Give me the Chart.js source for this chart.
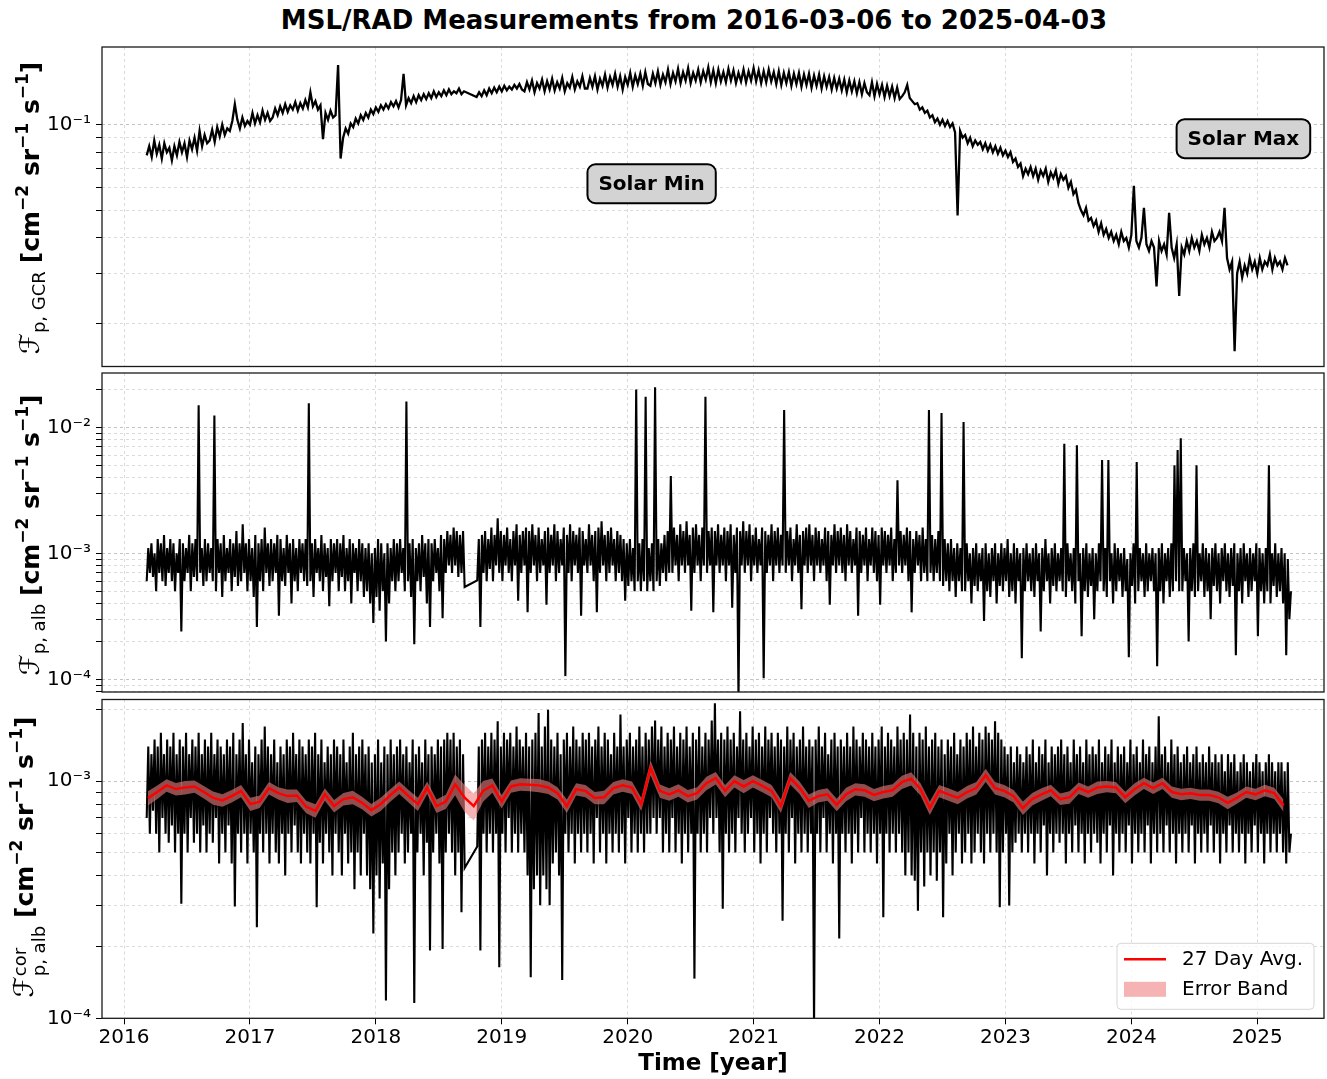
<!DOCTYPE html>
<html>
<head>
<meta charset="utf-8">
<title>MSL/RAD Measurements</title>
<script src="https://cdn.jsdelivr.net/npm/chart.js@4.4.1/dist/chart.umd.min.js"></script>
<style>
  body { margin: 0; background: #fff; }
  #fig { position: relative; width: 1327px; height: 1079px; overflow: hidden;
         font-family: 'DejaVu Sans', sans-serif; color: #000; }
  #fig canvas { position: absolute; left: 0; }
  #title { position: absolute; left: 694px; top: 20px; transform: translate(-50%, -50%);
           font-size: 26px; font-weight: bold; white-space: nowrap; }
  .ylab { position: absolute; left: 29px; transform: translate(-50%, -50%) rotate(-90deg);
          white-space: nowrap; font-size: 25px; line-height: 1; }
  .ylab .cal { font-size: 27px; }
  .ylab .sub { font-size: 18px; position: relative; top: 6px; }
  .ylab b sup { font-size: 17px; vertical-align: 11px; line-height: 0; }
  .ylab .stack { display: inline-block; vertical-align: -12px; font-size: 18px; line-height: 1.05; }
  .ylab .stack span { display: block; }
</style>
</head>
<body>
<div id="fig">
  <div id="title">MSL/RAD Measurements from 2016-03-06 to 2025-04-03</div>
  <canvas id="gcr" width="1327" height="330" style="top:40px"></canvas>
  <canvas id="alb" width="1327" height="326" style="top:370px"></canvas>
  <canvas id="cor" width="1327" height="383" style="top:696px"></canvas>
  <div class="ylab" style="top:208px"><span class="cal">ℱ</span><span class="sub">p, GCR</span> <b>[cm<sup>−2</sup> sr<sup>−1</sup> s<sup>−1</sup>]</b></div>
  <div class="ylab" style="top:535px"><span class="cal">ℱ</span><span class="sub">p, alb</span> <b>[cm<sup>−2</sup> sr<sup>−1</sup> s<sup>−1</sup>]</b></div>
  <div class="ylab" style="top:857px"><span class="cal">ℱ</span><span class="stack"><span>cor</span><span>p, alb</span></span> <b>[cm<sup>−2</sup> sr<sup>−1</sup> s<sup>−1</sup>]</b></div>
</div>
<script>
/* ── Sampling (decimal years) ───────────────────────── */
const T0 = 2016.18;
const GCR_STEP = 0.02;
const ALB_STEP = 0.0125;
const AVG_T0 = 2016.19;
const AVG_STEP = 27 / 365.25;
const X_MIN = 2015.825, X_MAX = 2025.53;

const yearTicks  = [2016, 2017, 2018, 2019, 2020, 2021, 2022, 2023, 2024, 2025];
const minorMults = [1, 2, 3, 4, 5, 6, 7, 8, 9];
const gcrDecades = [-2, -1];
const albDecades = [-5, -4, -3, -2];
const corDecades = [-4, -3];

const noteTexts = ['Solar Min', 'Solar Max'];
const noteYears = [2020.19, 2024.89];
const noteFlux  = [0.062, 0.0893];
const legendLabels = ['27 Day Avg.', 'Error Band'];

// GCR proton flux, units of 1e-3 (null = no data), one row per half year
const gcrFlux = [
  78, 84, 77, 88, 79, 85, 76, 86, 80, 83, 75, 84, 78, 87, 80, 86, 77, 88, 82, 90, 81, 95, 84, 92, 86,
  88, 96, 87, 98, 91, 100, 92, 97, 95, 103, 118, 104, 97, 106, 99, 103, 100, 110, 101, 108, 102, 112, 104, 110, 103,
  106, 114, 108, 116, 110, 118, 111, 117, 113, 120, 112, 119, 114, 122, 115, 130, 116, 121, 113, 117, 89, 110, 104, 112, 106,
  108, 162, 76, 90, 97, 93, 101, 98, 105, 101, 108, 104, 110, 106, 113, 109, 115, 111, 117, 113, 118, 114, 120, 116, 121,
  115, 122, 151, 117, 124, 119, 126, 120, 127, 122, 128, 123, 129, 124, 131, 125, 130, 126, 132, 127, 133, 128, 131, 129, 134,
  128, 131, null, null, null, null, 125, 130, 126, 132, 127, 134, 129, 135, 130, 136, 131, 137, 132, 136, 133, 138, 134, 139, 133,
  131, 141, 133, 143, 130, 140, 134, 144, 131, 142, 133, 145, 132, 141, 134, 146, 131, 140, 135, 147, 133, 142, 136, 148, 134,
  134, 146, 136, 148, 133, 145, 137, 150, 135, 147, 138, 151, 136, 148, 133, 147, 138, 152, 136, 149, 139, 151, 137, 153, 139,
  137, 151, 140, 154, 138, 150, 141, 156, 139, 152, 142, 157, 140, 153, 143, 158, 140, 152, 143, 156, 141, 154, 144, 159, 141,
  155, 140, 156, 142, 153, 141, 157, 143, 155, 140, 152, 142, 156, 141, 154, 143, 158, 142, 155, 140, 154, 141, 156, 142, 153,
  139, 154, 138, 152, 140, 153, 137, 151, 139, 152, 136, 150, 138, 151, 135, 149, 137, 150, 134, 148, 136, 147, 133, 146, 134,
  145, 132, 144, 130, 143, 131, 142, 129, 141, 128, 140, 130, 127, 141, 126, 139, 128, 138, 125, 137, 126, 136, 124, 135, 123,
  126, 130, 138, 124, 121, 118, 119, 113, 115, 110, 112, 106, 108, 102, 105, 100, 104, 99, 103, 98, 101, 94, 48, 95, 90,
  92, 86, 90, 84, 88, 85, 87, 82, 86, 81, 85, 80, 84, 79, 83, 78, 81, 77, 80, 74, 76, 71, 73, 66, 70,
  67, 71, 66, 70, 64, 69, 66, 70, 63, 68, 65, 69, 62, 67, 64, 66, 60, 63, 57, 59, 53, 50, 48, 51, 46,
  47, 44, 46, 42, 45, 41, 43, 40, 42, 39, 41, 38, 42, 39, 40, 37, 41, 61, 39, 37, 40, 51, 38, 36, 39,
  37, 27, 39, 36, 38, 35, 49, 37, 34, 38, 25, 37, 35, 39, 36, 40, 37, 39, 36, 41, 38, 40, 37, 42, 39,
  40, 42, 39, 51, 34, 31, 33, 16, 30, 33, 29, 32, 30, 34, 31, 33, 30, 34, 31, 33, 32, 35, 31, 34, 32,
  33, 31, 34, 32,
];

// albedo proton flux, units of 1e-4, one row per quarter year
const albFlux = [
  6, 11, 7, 12, 6.5, 10, 5, 13, 7, 12, 6, 14, 5.5, 11, 7, 13, 6, 12, 5, 10,
  7, 13, 2.4, 12, 6, 11, 7, 14, 5, 12, 6.5, 13, 6, 150, 7, 11, 5.5, 13, 6, 12,
  7, 11, 6, 124, 5, 13, 7, 12, 4.5, 14, 6, 11, 7, 13, 5, 12, 6.5, 15, 5.5, 12,
  6, 17, 7, 12, 5, 13, 6, 11, 4.5, 14, 2.6, 12, 6, 13, 5, 16, 7, 12, 5.5, 13,
  6, 12, 7, 14, 3.2, 13, 6, 11, 5.5, 14, 7, 12, 4, 13, 6, 11, 5, 13, 7, 12,
  6, 13, 5.5, 155, 6, 12, 4.5, 13, 7, 11, 6, 14, 5, 12, 6.5, 11, 3.8, 13, 6, 12,
  7, 13, 5, 12, 6.5, 14, 5, 11, 6, 13, 4, 12, 7, 11, 5, 13, 6, 12, 4.5, 11,
  5, 12, 4, 10, 2.8, 11, 4.5, 13, 3.5, 12, 5, 10, 2.0, 12, 4, 11, 6, 13, 5, 12,
  6, 13, 7, 11, 5, 160, 6, 12, 4.5, 13, 1.9, 11, 6, 12, 5, 14, 6.5, 12, 4, 13,
  2.6, 12, 6, 13, 7, 11, 5, 14, 3.05, 13, 7, 15, 8, 14, 7, 16, 8, 15, 6.5, 14,
  7, 15, 5.4, null, null, null, null, null, null, null, 6.1, 13, 2.6, 14, 7, 15, 6, 13, 7.5, 16,
  6, 14, 8, 19, 7, 15, 6, 14, 8, 16, 7, 13, 6, 15, 8, 17, 4.2, 14, 7, 15,
  8, 16, 3.4, 15, 7, 17, 8, 14, 6, 16, 7, 13, 8, 15, 3.9, 16, 7, 14, 8, 17,
  6, 15, 7, 13, 8, 16, 1.06, 14, 7, 17, 6, 15, 8, 14, 7, 16, 3.2, 15, 8, 13,
  7, 17, 8, 14, 6, 15, 3.4, 16, 7, 18, 8, 14, 6, 15, 7, 16, 8, 13, 6, 15,
  7, 14, 6, 13, 4.2, 12, 5.5, 13, 6, 11, 5, 200, 6, 12, 5, 13, 6, 175, 5, 11,
  6, 12, 5, 208, 6, 13, 5.5, 12, 7, 14, 6, 15, 7, 41, 7, 16, 8, 14, 6, 17,
  8, 15, 7, 18, 8, 14, 3.5, 16, 7, 17, 8, 14, 6, 16, 8, 175, 7, 15, 8, 16,
  3.4, 15, 8, 17, 7, 14, 8, 16, 6, 15, 8, 17, 3.7, 14, 7, 16, 0.7, 15, 8, 18,
  7, 15, 8, 17, 6, 14, 8, 16, 7, 13, 8, 16, 1.02, 15, 7, 14, 8, 17, 6, 15,
  8, 16, 7, 14, 8, 137, 7, 15, 8, 16, 6, 13, 8, 17, 7, 14, 3.6, 15, 8, 16,
  7, 17, 8, 14, 6, 16, 8, 15, 7, 13, 8, 16, 6, 15, 3.9, 14, 8, 17, 7, 15,
  8, 16, 7, 14, 6, 17, 8, 15, 7, 13, 8, 16, 3.2, 15, 7, 14, 8, 16, 6, 13,
  8, 16, 7, 15, 6, 14, 3.9, 16, 8, 15, 7, 14, 8, 16, 6, 13, 7, 38, 8, 15,
  7, 14, 8, 16, 6, 15, 3.4, 13, 7, 15, 8, 14, 6, 16, 7, 13, 6, 137, 7, 14,
  6, 13, 7, 15, 6, 130, 5.5, 13, 6, 12, 5, 13, 6, 11, 4.5, 12, 6, 11, 5, 110,
  5, 12, 6, 10, 4, 11, 5.5, 12, 5, 10, 6, 11, 2.9, 12, 5, 10, 4.5, 11, 6, 12,
  4, 10, 5.5, 12, 5, 11, 6, 13, 4.5, 10, 5, 12, 4, 11, 6, 10, 1.47, 11, 5, 12,
  6, 10, 5, 11, 4.5, 12, 6, 10, 2.4, 11, 5, 13, 6, 10, 4, 11, 5.5, 12, 5, 10,
  6, 11, 5, 74, 4.5, 12, 6, 10, 5, 11, 4, 72, 6, 10, 2.2, 11, 5, 12, 4.5, 10,
  5.5, 11, 3, 10, 5, 12, 6, 55, 5, 11, 4.5, 55, 6, 10, 4, 12, 5, 11, 6, 10,
  4.5, 11, 5, 9, 1.5, 10, 5.5, 12, 4, 53, 5, 11, 6, 10, 4.5, 12, 5, 10, 6, 11,
  5, 10, 1.27, 11, 5, 12, 4, 10, 6, 11, 4.5, 12, 5, 50, 6, 66, 5, 82, 5, 11,
  6, 10, 2.0, 11, 5, 12, 4.5, 50, 5, 10, 6, 12, 4.5, 11, 5, 10, 3, 11, 5.5, 12,
  5, 10, 4, 11, 6, 12, 5, 10, 4.5, 11, 5.5, 12, 1.55, 10, 5, 11, 4, 12, 6, 10,
  4.5, 11, 5, 10, 6, 12, 2.2, 11, 5, 10, 4, 11, 5, 50, 4, 10, 5.5, 12, 4.5, 10,
  5, 11, 4, 10, 1.55, 9, 3, 5,
];

// corrected albedo proton flux, units of 1e-4, one row per quarter year
const corFlux = [
  7, 14, 6, 13, 7.5, 15, 6, 14, 5, 16, 7, 13, 6, 15, 5.5, 14, 6.5, 16, 5, 13,
  6, 15, 3.04, 14, 6, 16, 5, 13, 7, 15, 5.5, 14, 6, 16, 5, 13, 6.5, 15, 5, 14,
  6, 16, 5.5, 13, 7, 15, 4.5, 14, 6, 13, 5, 15, 6.5, 14, 4.5, 16, 2.96, 13, 6, 15,
  5, 17.6, 6, 13, 4.5, 15, 6, 12, 5, 14, 2.42, 13, 6, 15, 5, 17, 6, 14, 4.5, 13,
  6, 15, 5, 12, 4.5, 14, 6, 13, 4, 15, 6, 14, 5, 16, 6.5, 13, 5, 15, 4.5, 14,
  6, 13, 5, 15, 4.5, 14, 6, 16, 2.94, 13, 5.5, 15, 4.5, 12, 6, 14, 5, 13, 4, 15,
  6, 14, 5, 13, 4, 15, 6, 12, 4.5, 14, 5, 16, 3.5, 13, 5, 14, 4, 15, 6, 13,
  4, 14, 3.5, 12, 2.28, 13, 4, 15, 3.2, 12, 4.5, 14, 1.19, 13, 3.5, 15, 5, 13, 4, 14,
  5, 15, 6, 13, 4.5, 14, 5, 12, 6, 15, 1.16, 13, 5, 14, 6, 12, 4, 15, 5.5, 13,
  1.93, 14, 5, 13, 6, 15, 4.5, 14, 1.96, 15, 5, 16, 6, 15, 5, 16, 4, 14, 5, 15,
  2.8, 13, 4.3, null, null, null, null, null, null, null, 5.3, 14, 1.93, 15, 6, 16, 5, 14, 6, 16,
  5, 15, 6, 17.9, 1.64, 14, 6, 16, 5, 15, 7, 16, 5, 14, 6, 17, 5, 15, 6, 14,
  5, 16, 4, 14, 1.49, 15, 3.5, 16, 4, 19.4, 3, 14, 4, 17, 3.5, 20, 3, 15, 4.5, 14,
  5, 16, 4, 13, 1.45, 15, 6, 16, 5, 14, 6, 17, 4.5, 15, 6, 14, 5, 16, 6, 15,
  5, 16, 6, 14, 4.5, 15, 7, 17, 5, 14, 6, 16, 4.5, 15, 6, 13, 5, 16, 6, 14,
  5, 19.1, 6, 14, 4.5, 15, 7, 16, 5, 14, 6, 15, 5, 17, 6, 14, 5, 16, 6, 15,
  6, 17, 7, 18, 6, 15, 7, 17, 5, 14, 6, 16, 5, 15, 7, 17, 5, 14, 6, 16,
  4.5, 15, 6, 17, 5, 14, 6, 16, 1.47, 15, 6, 17, 5, 14, 6, 16, 5, 15, 7, 18,
  6, 21.3, 7, 15, 5, 16, 2.9, 15, 6, 17, 5, 15, 6, 16, 5, 14, 7, 19.7, 6, 15,
  5, 16, 6, 14, 7, 17, 5, 15, 6, 16, 4.5, 14, 6, 17, 5, 15, 7, 16, 6, 14,
  5, 16, 6, 15, 2.58, 14, 6, 17, 5, 15, 7, 16, 4.5, 14, 6, 15, 5, 17, 6, 14,
  5, 15, 6, 14, 0.9, 15, 6, 17, 5, 14, 7, 16, 5, 13, 6, 15, 4.5, 16, 6, 14,
  2.17, 15, 6, 14, 5, 16, 6, 14, 4.5, 17, 6, 15, 5, 14, 7, 16, 5, 15, 6, 14,
  5, 16, 6, 14, 4.5, 15, 6, 17, 2.67, 14, 6, 16, 5, 15, 6, 14, 5, 17, 6, 15,
  5, 16, 4, 15, 5, 19.1, 4, 16, 3.8, 14, 2.84, 16, 5, 15, 3.6, 17, 5, 14, 4, 15,
  5, 16, 3.8, 14, 5, 15, 2.67, 13, 4.5, 15, 6, 14, 4, 16, 5, 13, 6, 15, 4.5, 14,
  5, 16, 6, 15, 4.5, 17, 5, 14, 6, 16, 5, 15, 4.5, 17, 6, 16, 5, 15, 6, 17.9,
  5, 16, 2.94, 15, 5, 14, 6, 13, 2.99, 14, 5, 12, 5.5, 14, 6, 13, 5, 12, 6, 14,
  5, 13, 6, 15, 4.5, 12, 6, 14, 5, 13, 6.5, 15, 4, 12, 6, 14, 5, 13, 6, 14,
  5.5, 15, 6, 13, 4.5, 14, 6, 12, 5, 15, 6.5, 13, 5, 14, 6, 12, 4.5, 15, 6, 13,
  5, 14, 6, 13, 5.5, 15, 4.5, 12, 6, 14, 5, 13, 6.5, 15, 4, 12, 6, 14, 5, 13,
  6, 14, 5, 12, 6.5, 15, 4.5, 13, 6, 14, 5, 12, 6, 15, 5, 13, 6.5, 14, 4.5, 12,
  6, 14, 5, 18.8, 6, 13, 5, 14, 6.5, 12, 5, 15, 6, 13, 4.5, 14, 6, 12, 5, 13,
  6, 14, 5, 12, 6.5, 13, 4.5, 14, 6, 12, 5, 13, 6, 12, 5, 14, 6.5, 12, 5, 13,
  6, 12, 4.5, 13, 6, 11, 5, 13, 6.5, 12, 5, 13, 6, 11, 5, 12, 6, 13, 4.5, 12,
  6, 11, 5, 12, 6.5, 13, 5, 12, 6, 11, 4.5, 12, 6, 13, 5, 12, 6, 11, 5, 12,
  6, 12, 5, 11, 4.5, 12, 5, 6,
];

// 27-day average of the corrected flux, units of 1e-4
const avgFlux = [
  8.48, 9.0, 9.6, 9.26, 9.4, 9.5, 9.0, 8.5, 8.3, 8.65,
  9.1, 8.0, 8.2, 9.35, 8.9, 8.65, 8.7, 7.8, 7.5, 8.8,
  7.85, 8.4, 8.55, 8.1, 7.55, 8.0, 8.7, 9.4, 8.65, 8.0,
  9.4, 7.85, 8.2, 9.7, 8.55, 7.85, 9.1, 9.6, 8.2, 9.5,
  9.7, 9.65, 9.6, 9.4, 8.9, 7.85, 9.25, 9.1, 8.5, 8.55,
  9.35, 9.6, 9.4, 8.0, 11.4, 9.1, 8.8, 9.15, 8.65, 8.9,
  9.8, 10.3, 9.1, 10.0, 9.5, 10.0, 9.55, 9.1, 7.85, 10.3,
  9.4, 8.25, 8.65, 8.8, 7.95, 8.8, 9.25, 9.15, 8.75, 9.0,
  9.15, 9.9, 10.25, 9.25, 7.7, 9.1, 8.8, 8.5, 9.0, 9.35,
  10.6, 9.35, 9.1, 8.65, 7.7, 8.4, 8.8, 9.15, 8.4, 8.55,
  9.35, 9.0, 9.4, 9.5, 9.4, 8.55, 9.25, 9.8, 9.35, 9.8,
  9.0, 8.8, 8.9, 8.75, 8.75, 8.55, 8.1, 8.5, 9.0, 8.8,
  9.15, 8.9, 7.9,
];

// relative error of the 27-day average, percent
const avgErrPct = [
  7, 6.5, 6, 6, 6.5, 6, 6, 6.5, 6, 6,
  6, 6.5, 6, 6, 6, 6.5, 6, 6, 6.5, 6,
  6, 6, 6.5, 6, 6, 6.5, 6, 6, 6, 6.5,
  6, 6.5, 7, 10, 13, 13, 10, 7, 6.5, 6,
  6, 6, 6.5, 6, 6, 6.5, 6, 6, 6, 6.5,
  6, 6, 6, 6.5, 7, 6.5, 6, 6, 6, 6,
  6.5, 6, 6, 6, 6.5, 6, 6, 6, 6.5, 6,
  6, 6.5, 6, 6, 6, 6.5, 6, 6, 6, 6,
  6, 6.5, 6.5, 6, 6.5, 6, 6, 6, 6, 6,
  6.5, 6, 6, 6, 6.5, 6, 6, 5.5, 5.5, 6,
  5.5, 5.5, 6, 5.5, 5.5, 5.5, 6, 5.5, 5.5, 5.5,
  5.5, 5.5, 5.5, 5.5, 5.5, 5.5, 6, 5.5, 5.5, 5.5,
  5.5, 5.5, 6,
];

/* ── Styles ─────────────────────────────────────────── */
const FONT = 'DejaVu Sans';
const AVG_COLOR  = '#ff0000';
const BAND_COLOR = 'rgba(240,128,128,0.6)';
const GRID_MAJOR = '#b4b4b4';
const GRID_MINOR = '#d2d2d2';

/* ── Helpers ────────────────────────────────────────── */
function toPoints(vals, t0, step, unit) {
  return vals.map((v, i) => ({ x: t0 + i * step, y: v === null ? null : v * unit }));
}

function isDecade(v) {
  const l = Math.log10(v);
  return Math.abs(l - Math.round(l)) < 1e-9;
}

const SUP = { '-': '⁻', '0': '⁰', '1': '¹', '2': '²', '3': '³', '4': '⁴', '5': '⁵', '6': '⁶', '7': '⁷', '8': '⁸', '9': '⁹' };
function decadeLabel(v) {
  if (!isDecade(v)) return '';
  const e = String(Math.round(Math.log10(v)));
  return '10' + e.split('').map(c => SUP[c]).join('');
}

function logTicks(decades) {
  const out = [];
  decades.forEach(d => minorMults.forEach(m => out.push(m * Math.pow(10, d))));
  return out;
}

function xScale(showLabels, height) {
  return {
    type: 'linear', min: X_MIN, max: X_MAX,
    afterBuildTicks: s => { s.ticks = yearTicks.map(v => ({ value: v })); },
    afterFit: s => { s.height = height; s.paddingLeft = 0; s.paddingRight = 0; },
    ticks: { display: showLabels, callback: v => String(v), color: '#000', padding: 1,
             font: { family: FONT, size: 20 }, maxRotation: 0, autoSkip: false },
    grid: { color: GRID_MINOR, lineWidth: 0.8, drawTicks: showLabels, tickLength: 6, tickColor: '#000', tickWidth: 1 },
    border: { display: false, dash: [3, 3] },
    title: { display: showLabels, text: 'Time [year]', color: '#000',
             font: { family: FONT, size: 23, weight: 'bold' }, padding: { top: 0, bottom: 1 } },
  };
}

function yScale(min, max, decades) {
  return {
    type: 'logarithmic', min, max,
    afterBuildTicks: s => {
      s.ticks = logTicks(decades).filter(v => v >= min * 0.9999 && v <= max * 1.0001).map(v => ({ value: v }));
    },
    afterFit: s => { s.width = 102; s.paddingTop = 0; s.paddingBottom = 0; },
    ticks: { callback: v => decadeLabel(v), color: '#000', padding: 5, autoSkip: false,
             font: { family: FONT, size: 20 } },
    grid: { color: c => (c.tick && isDecade(c.tick.value)) ? GRID_MAJOR : GRID_MINOR,
            lineWidth: 0.8, tickLength: 6, tickColor: '#000', tickWidth: 1 },
    border: { display: false, dash: [3, 3] },
  };
}

/* ── Plugins ────────────────────────────────────────── */
const framePlugin = {
  id: 'frame',
  afterDraw(chart) {
    const { ctx, chartArea: a } = chart;
    ctx.save();
    ctx.strokeStyle = '#1a1a1a';
    ctx.lineWidth = 1.3;
    ctx.strokeRect(a.left, a.top, a.right - a.left, a.bottom - a.top);
    ctx.restore();
  },
};

const notesPlugin = {
  id: 'notes',
  afterDraw(chart) {
    const { ctx, scales: { x, y } } = chart;
    ctx.save();
    ctx.font = `bold 20px "${FONT}"`;
    ctx.textAlign = 'center';
    ctx.textBaseline = 'middle';
    noteTexts.forEach((t, i) => {
      const cx = x.getPixelForValue(noteYears[i]);
      const cy = y.getPixelForValue(noteFlux[i]);
      const w = ctx.measureText(t).width + 22, h = 39;
      ctx.beginPath();
      ctx.roundRect(cx - w / 2, cy - h / 2, w, h, 8);
      ctx.fillStyle = '#d3d3d3';
      ctx.fill();
      ctx.lineWidth = 2;
      ctx.strokeStyle = '#000';
      ctx.stroke();
      ctx.fillStyle = '#000';
      ctx.fillText(t, cx, cy + 1);
    });
    ctx.restore();
  },
};

const legendPlugin = {
  id: 'bandLegend',
  afterDraw(chart) {
    const { ctx, chartArea: a } = chart;
    const w = 197, h = 66;
    const left = a.right - 10 - w, top = a.bottom - 9 - h;
    ctx.save();
    ctx.beginPath();
    ctx.roundRect(left, top, w, h, 4);
    ctx.fillStyle = 'rgba(255,255,255,0.8)';
    ctx.fill();
    ctx.strokeStyle = '#d6d6d6';
    ctx.lineWidth = 1;
    ctx.stroke();
    ctx.beginPath();
    ctx.moveTo(left + 7, top + 16);
    ctx.lineTo(left + 49, top + 16);
    ctx.strokeStyle = AVG_COLOR;
    ctx.lineWidth = 2.5;
    ctx.stroke();
    ctx.fillStyle = BAND_COLOR;
    ctx.fillRect(left + 7, top + 38.5, 42, 15);
    ctx.fillStyle = '#000';
    ctx.font = `20px "${FONT}"`;
    ctx.textAlign = 'left';
    ctx.textBaseline = 'middle';
    ctx.fillText(legendLabels[0], left + 65, top + 16);
    ctx.fillText(legendLabels[1], left + 65, top + 46);
    ctx.restore();
  },
};

/* ── Panel builder ──────────────────────────────────── */
function makePanel(id, cfg) {
  return new Chart(document.getElementById(id), {
    type: 'line',
    data: { datasets: cfg.datasets },
    options: {
      responsive: false,
      animation: false,
      events: [],
      layout: { padding: { top: cfg.padTop, bottom: cfg.padBottom, left: 0, right: 3 } },
      elements: { point: { radius: 0 }, line: { tension: 0 } },
      plugins: { legend: { display: false }, tooltip: { enabled: false } },
      scales: { x: xScale(cfg.showX, cfg.xHeight), y: yScale(cfg.min, cfg.max, cfg.decades) },
    },
    plugins: [framePlugin, ...(cfg.extra || [])],
  });
}

function blackLine(points, width) {
  return { data: points, borderColor: '#000', borderWidth: width, spanGaps: true, fill: false, order: 3 };
}

/* ── Build ──────────────────────────────────────────── */
const gcrPts = toPoints(gcrFlux, T0, GCR_STEP, 1e-3);
const albPts = toPoints(albFlux, T0, ALB_STEP, 1e-4);
const corPts = toPoints(corFlux, T0, ALB_STEP, 1e-4);
const avgPts = toPoints(avgFlux, AVG_T0, AVG_STEP, 1e-4);
const bandHi = avgPts.map((p, i) => ({ x: p.x, y: p.y * (1 + avgErrPct[i] / 100) }));
const bandLo = avgPts.map((p, i) => ({ x: p.x, y: p.y * (1 - avgErrPct[i] / 100) }));

makePanel('gcr', {
  padTop: 7, padBottom: 3.5, showX: false, xHeight: 0,
  min: 0.01413, max: 0.1875, decades: gcrDecades,
  datasets: [blackLine(gcrPts, 2.3)],
  extra: [notesPlugin],
});

makePanel('alb', {
  padTop: 3, padBottom: 4, showX: false, xHeight: 0,
  min: 7.93e-5, max: 0.027, decades: albDecades,
  datasets: [blackLine(albPts, 2.1)],
});

makePanel('cor', {
  padTop: 3.5, padBottom: 0, showX: true, xHeight: 60.7,
  min: 1e-4, max: 2.21e-3, decades: corDecades,
  datasets: [
    { label: legendLabels[0], data: avgPts, borderColor: AVG_COLOR, borderWidth: 2.5, fill: false, order: 0 },
    { data: bandHi, borderWidth: 0, borderColor: 'rgba(0,0,0,0)', fill: false, order: 1 },
    { label: legendLabels[1], data: bandLo, borderWidth: 0, borderColor: 'rgba(0,0,0,0)',
      backgroundColor: BAND_COLOR, fill: '-1', order: 1 },
    blackLine(corPts, 2.1),
  ],
  extra: [legendPlugin],
});
</script>
</body>
</html>
